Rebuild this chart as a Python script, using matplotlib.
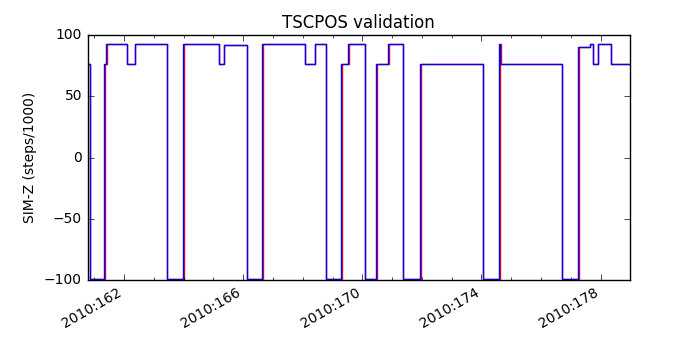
import matplotlib
matplotlib.use('Agg')
import matplotlib.pyplot as plt
from matplotlib.ticker import FixedLocator, MultipleLocator, FuncFormatter

plt.style.use('classic')
plt.rcParams['font.size'] = 10

# step change times (day of year 2010) and SIM-Z level after each change (steps/1000)
t_blue = [160.77, 160.84, 161.34, 161.40, 162.09, 162.35, 163.44, 163.97, 165.18, 165.34,
          166.12, 166.63, 168.06, 168.42, 168.79, 169.30, 169.52, 170.08, 170.47, 170.86,
          171.37, 171.93, 174.06, 174.59, 174.64, 176.69, 177.25, 177.64, 177.76, 177.90,
          178.34, 178.99]
t_red = [160.77, 160.84, 161.37, 161.43, 162.09, 162.35, 163.44, 164.00, 165.18, 165.34,
         166.12, 166.66, 168.06, 168.42, 168.79, 169.33, 169.55, 170.08, 170.50, 170.89,
         171.37, 171.96, 174.06, 174.62, 174.66, 176.69, 177.28, 177.64, 177.76, 177.90,
         178.34, 178.99]
simz = [76, -99, 76, 93, 76, 93, -99, 93, 76, 92,
        -99, 93, 76, 93, -99, 76, 93, -99, 76, 93,
        -99, 76, -99, 93, 76, -99, 90.5, 93, 76, 93,
        76, 76]

major_days = [162, 166, 170, 174, 178]

fig = plt.figure(figsize=(7, 3.5), dpi=100, facecolor='white')
ax = fig.add_subplot(111)
fig.subplots_adjust(left=0.125, right=0.9, top=0.9, bottom=0.2)

ax.plot(t_red, simz, color='r', drawstyle='steps-post', lw=1.0)
ax.plot(t_blue, simz, color='b', drawstyle='steps-post', lw=1.0)

ax.set_xlim(t_blue[0], t_blue[-1])
ax.set_ylim(-100, 100)
ax.set_yticks([-100, -50, 0, 50, 100])
ax.xaxis.set_major_locator(FixedLocator(major_days))
ax.xaxis.set_minor_locator(MultipleLocator(1))
ax.xaxis.set_major_formatter(FuncFormatter(lambda x, pos: '2010:%03d' % int(round(x))))
ax.tick_params(labelsize=10)
for lbl in ax.get_xticklabels():
    lbl.set_rotation(30)
    lbl.set_ha('right')

ax.set_title('TSCPOS validation', fontsize=12)
ax.set_ylabel('SIM-Z (steps/1000)', fontsize=10)

fig.savefig('out.png', dpi=100, facecolor='white')
